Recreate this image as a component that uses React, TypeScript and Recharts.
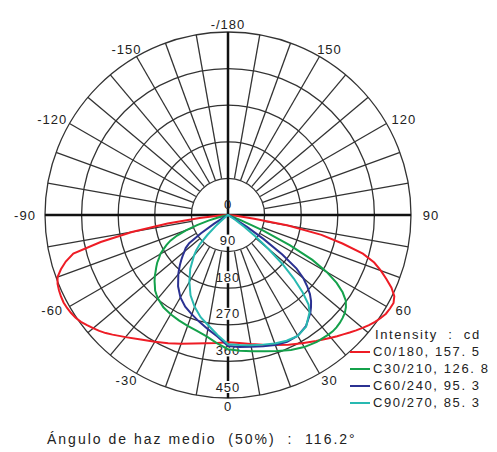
import React from "react";
import { Legend, PolarAngleAxis, PolarGrid, PolarRadiusAxis, Radar, RadarChart } from "recharts";

// gamma angles (deg from nadir), same list used for both half-planes
const G_ABS = [0, 5, 10, 15, 20, 25, 30, 35, 40, 42, 44, 46, 48, 50, 52, 54, 56, 58, 60, 62, 64, 66, 68, 70, 72, 74, 76, 78, 80, 82, 84, 86, 88, 90];

// intensity (cd) per C-plane
const C0 = [313, 316, 322, 330, 340, 352, 364, 378, 394, 401, 408, 416, 424, 432, 440, 447, 453, 458, 460, 461, 455, 440, 420, 400, 378, 345, 290, 235, 150, 65, 20, 0, 0, 0];
const C180 = [313, 316, 320, 327, 337, 348, 360, 374, 392, 400, 409, 418, 426, 433, 440, 447, 452, 455, 457, 458, 457, 455, 452, 446, 432, 415, 392, 320, 240, 150, 70, 20, 0, 0];
const C30 = [330, 335, 340, 347, 356, 366, 375, 381, 384, 385, 384, 382, 379, 375, 368, 358, 340, 315, 280, 235, 170, 95, 35, 5, 0, 0, 0, 0, 0, 0, 0, 0, 0, 0];
const C210 = [330, 316, 303, 295, 290, 286, 282, 277, 268, 263, 258, 250, 243, 235, 226, 218, 210, 200, 192, 180, 168, 155, 135, 110, 80, 50, 25, 8, 0, 0, 0, 0, 0, 0];
const C60 = [322, 326, 329, 334, 340, 344, 343, 334, 315, 305, 294, 280, 262, 242, 214, 165, 105, 55, 22, 6, 0, 0, 0, 0, 0, 0, 0, 0, 0, 0, 0, 0, 0, 0];
const C240 = [322, 300, 285, 272, 260, 249, 234, 214, 190, 180, 170, 160, 150, 140, 132, 118, 80, 40, 15, 3, 0, 0, 0, 0, 0, 0, 0, 0, 0, 0, 0, 0, 0, 0];
const C90 = [318, 321, 325, 330, 336, 341, 343, 335, 312, 296, 264, 225, 180, 130, 85, 50, 22, 8, 0, 0, 0, 0, 0, 0, 0, 0, 0, 0, 0, 0, 0, 0, 0, 0];
const C270 = [318, 296, 276, 260, 240, 218, 190, 162, 130, 117, 100, 70, 40, 18, 5, 0, 0, 0, 0, 0, 0, 0, 0, 0, 0, 0, 0, 0, 0, 0, 0, 0, 0, 0];

const ANGLE_TICKS = [-180, -150, -120, -90, -60, -30, 0, 30, 60, 90, 120, 150];
const SPOKE_TICKS = [-180, -170, -160, -150, -140, -130, -120, -110, -100, -90, -80, -70, -60, -50, -40, -30, -20, -10, 0, 10, 20, 30, 40, 50, 60, 70, 80, 90, 100, 110, 120, 130, 140, 150, 160, 170];
const CROSS_TICKS = [-180, -90, 0, 90];
const RADIUS_TICKS = [0, 90, 180, 270, 360, 450];

const SERIES = [
  { key: "c0", name: "C0/180, 157. 5", color: "#ee1c25", right: C0, left: C180 },
  { key: "c30", name: "C30/210, 126. 8", color: "#14a14b", right: C30, left: C210 },
  { key: "c60", name: "C60/240, 95. 3", color: "#2b3192", right: C60, left: C240 },
  { key: "c90", name: "C90/270, 85. 3", color: "#28b9b1", right: C90, left: C270 },
];

const FONT = '"Liberation Sans", Arial, sans-serif';
const GRID = "#333";
const CX = 220;
const CY = 207;

function buildRows() {
  const rows: Record<string, number>[] = [];
  const zero = (g: number) => {
    const r: Record<string, number> = { gamma: g };
    SERIES.forEach((s) => (r[s.key] = 0));
    return r;
  };
  rows.push(zero(-180));
  for (let i = G_ABS.length - 1; i >= 1; i--) {
    const r: Record<string, number> = { gamma: -G_ABS[i] };
    SERIES.forEach((s) => (r[s.key] = s.left[i]));
    rows.push(r);
  }
  for (let i = 0; i < G_ABS.length; i++) {
    const r: Record<string, number> = { gamma: G_ABS[i] };
    SERIES.forEach((s) => (r[s.key] = s.right[i]));
    rows.push(r);
  }
  rows.push(zero(180));
  return rows;
}

const data = buildRows();

// labels sit on a slightly wider-than-tall ring, like the source
function AngleTick(props: any) {
  const { x, y, payload } = props;
  const v = payload.value;
  const label = v === -180 ? "-/180" : String(v);
  const dx = x - CX;
  const dy = y - CY;
  const len = Math.hypot(dx, dy) || 1;
  const lx = CX + (dx / len) * 203;
  const ly = CY + (dy / len) * 191;
  return (
    <text x={lx} y={ly} textAnchor="middle" dominantBaseline="central" fontSize={13} fill="#222" fontFamily={FONT} style={{ letterSpacing: 1 }}>
      {label}
    </text>
  );
}

function RadiusTick(props: any) {
  const { x, y, payload } = props;
  const label = String(payload.value);
  const ty = y - 11;
  return (
    <g>
      {payload.value > 0 && <rect x={x - 2.5} y={ty - 6} width={5} height={12} fill="#fff" />}
      <text x={x} y={ty} textAnchor="middle" dominantBaseline="central" fontSize={13} fill="#222" fontFamily={FONT} style={{ letterSpacing: 1 }}>
        {label}
      </text>
    </g>
  );
}

function LegendContent(props: any) {
  const payload = props.payload ?? [];
  return (
    <div style={{ fontFamily: FONT, fontSize: 13, color: "#222", letterSpacing: 1.6, whiteSpace: "pre", lineHeight: "17px" }}>
      <div style={{ paddingLeft: 25, height: 17 }}>{"Intensity  :  cd"}</div>
      {payload.map((p: any) => {
        const s = SERIES.find((d) => d.name === p.value);
        return (
          <div key={p.value} style={{ display: "flex", alignItems: "center", height: 17 }}>
            <span style={{ display: "inline-block", width: 20, height: 2, marginRight: 3, background: s ? s.color : p.color }} />
            <span>{p.value}</span>
          </div>
        );
      })}
    </div>
  );
}

export default function App() {
  return (
    <div style={{ position: "relative", width: 489, height: 444 }}>
      <RadarChart width={489} height={420} data={data} cx={CX} cy={CY} outerRadius={183} startAngle={90} endAngle={450} margin={{ top: 0, right: 0, bottom: 0, left: 0 }}>
        <PolarGrid gridType="circle" radialLines={false} stroke={GRID} strokeWidth={1.3} />
        <PolarAngleAxis
          angleAxisId="spokes"
          dataKey="gamma"
          type="number"
          domain={[-180, 180]}
          ticks={SPOKE_TICKS}
          tick={false}
          axisLine={false}
          orientation="inner"
          tickSize={146}
          tickLine={{ stroke: GRID, strokeWidth: 1.3 }}
          zIndex={-90}
        />
        <PolarAngleAxis
          angleAxisId="cross"
          dataKey="gamma"
          type="number"
          domain={[-180, 180]}
          ticks={CROSS_TICKS}
          tick={false}
          axisLine={false}
          orientation="inner"
          tickSize={183}
          tickLine={{ stroke: "#111", strokeWidth: 2.5 }}
          zIndex={-80}
        />
        <PolarRadiusAxis
          angle={-90}
          type="number"
          domain={[0, 450]}
          allowDataOverflow
          ticks={RADIUS_TICKS}
          axisLine={false}
          tickLine={false}
          tick={(p: any) => <RadiusTick {...p} />}
          zIndex={-70}
        />
        {SERIES.map((s) => (
          <Radar
            key={s.key}
            dataKey={s.key}
            name={s.name}
            stroke={s.color}
            strokeWidth={2}
            fill="none"
            fillOpacity={0}
            dot={false}
            isAnimationActive={false}
          />
        ))}
        <PolarAngleAxis
          dataKey="gamma"
          type="number"
          domain={[-180, 180]}
          ticks={ANGLE_TICKS}
          tickLine={false}
          axisLine={false}
          tickSize={17}
          tick={(p: any) => <AngleTick {...p} />}
        />
        <Legend content={(p: any) => <LegendContent {...p} />} wrapperStyle={{ left: 342, top: 318, width: 147, bottom: "auto" }} />
      </RadarChart>
      <div style={{ position: "absolute", left: 39, top: 422, fontFamily: FONT, fontSize: 14, lineHeight: "18px", color: "#222", letterSpacing: 2, whiteSpace: "pre" }}>
        {"Ángulo de haz medio  (50%)  :  116.2°"}
      </div>
    </div>
  );
}
